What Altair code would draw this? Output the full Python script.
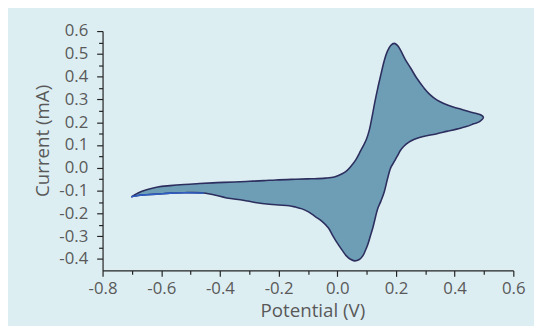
import altair as alt
import pandas as pd

# Forward (anodic) scan, from the left vertex to the right vertex
fwd_potential = [-0.702, -0.690, -0.679, -0.650, -0.612, -0.570, -0.522, -0.470, -0.411, -0.350,
                 -0.299, -0.250, -0.209, -0.142, -0.090, -0.041, -0.010, 0.015, 0.033, 0.048,
                 0.063, 0.076, 0.088, 0.099, 0.110, 0.118, 0.127, 0.138, 0.149, 0.160,
                 0.171, 0.182, 0.194, 0.205, 0.216, 0.232, 0.250, 0.270, 0.294, 0.315,
                 0.339, 0.365, 0.395, 0.425, 0.451, 0.475, 0.490, 0.498]
fwd_current = [-0.128, -0.118, -0.110, -0.096, -0.084, -0.078, -0.073, -0.069, -0.065, -0.062,
               -0.059, -0.056, -0.053, -0.050, -0.048, -0.045, -0.040, -0.027, -0.012, 0.009,
               0.035, 0.066, 0.095, 0.124, 0.170, 0.220, 0.282, 0.350, 0.411, 0.470,
               0.512, 0.537, 0.546, 0.537, 0.515, 0.475, 0.438, 0.395, 0.353, 0.322,
               0.298, 0.281, 0.267, 0.256, 0.246, 0.238, 0.232, 0.222]

# Reverse (cathodic) scan, from the right vertex back to the left vertex
rev_potential = [0.485, 0.465, 0.440, 0.410, 0.373, 0.340, 0.305, 0.280, 0.261, 0.243,
                 0.227, 0.215, 0.205, 0.193, 0.182, 0.171, 0.160, 0.149, 0.138, 0.129,
                 0.121, 0.112, 0.104, 0.095, 0.087, 0.075, 0.059, 0.045, 0.031, 0.017,
                 0.003, -0.015, -0.030, -0.052, -0.075, -0.098, -0.120, -0.142, -0.164, -0.200,
                 -0.232, -0.280, -0.321, -0.377, -0.422, -0.455, -0.522, -0.570, -0.612, -0.650,
                 -0.679, -0.695, -0.702]
rev_current = [0.203, 0.193, 0.181, 0.171, 0.160, 0.150, 0.141, 0.133, 0.124, 0.112,
               0.095, 0.076, 0.052, 0.025, 0.000, -0.049, -0.106, -0.145, -0.178, -0.222,
               -0.264, -0.302, -0.336, -0.365, -0.386, -0.402, -0.408, -0.401, -0.386, -0.362,
               -0.336, -0.298, -0.264, -0.235, -0.214, -0.193, -0.180, -0.172, -0.166, -0.163,
               -0.160, -0.152, -0.142, -0.132, -0.118, -0.110, -0.109, -0.111, -0.115, -0.118,
               -0.121, -0.125, -0.128]

# Part of the reverse scan drawn in a brighter blue
blue_from = -0.455

x_ticks = [-0.8, -0.7, -0.6, -0.5, -0.4, -0.3, -0.2, -0.1, 0.0, 0.1, 0.2, 0.3, 0.4, 0.5, 0.6]
y_ticks = [-0.4, -0.35, -0.3, -0.25, -0.2, -0.15, -0.1, -0.05, 0.0, 0.05, 0.1, 0.15,
           0.2, 0.25, 0.3, 0.35, 0.4, 0.45, 0.5, 0.55, 0.6]

pot = fwd_potential + rev_potential
cur = fwd_current + rev_current
df = pd.DataFrame({"potential": pot, "current": cur, "idx": list(range(len(pot)))})
blue = df[(df["idx"] >= len(fwd_potential)) & (df["potential"] <= blue_from)]

FONT = "Open Sans"
GREY = "#595959"

x_scale = alt.Scale(domain=[-0.8, 0.6], nice=False, zero=False)
y_scale = alt.Scale(domain=[-0.45, 0.6], nice=False, zero=False)

X_MAJOR = "abs(datum.value*5 - round(datum.value*5)) < 0.001"
Y_MAJOR = "abs(datum.value*10 - round(datum.value*10)) < 0.001"
LBL = "(datum.value < -0.0001 ? '-' : '') + format(abs(datum.value), '.1f')"

x_axis = alt.Axis(
    values=x_ticks, title="Potential (V)", grid=False,
    labelExpr=f"{X_MAJOR} ? {LBL} : ''",
    tickSize={"condition": {"test": X_MAJOR, "value": 6}, "value": 4},
    labelPadding=4, titlePadding=6, labelFlush=False, labelOverlap=False,
    titleX=213,
)
y_axis = alt.Axis(
    values=y_ticks, title="Current (mA)", grid=False,
    labelExpr=f"{Y_MAJOR} ? {LBL} : ''",
    tickSize={"condition": {"test": Y_MAJOR, "value": 6}, "value": 4},
    labelPadding=9, titlePadding=7, labelFlush=False, labelOverlap=False,
    titleY=111,
)

shape = alt.Chart(df).mark_line(
    fill="#6e9db6", stroke="#2c2f5e", strokeWidth=1.6, interpolate="catmull-rom"
).encode(
    x=alt.X("potential:Q", scale=x_scale, axis=x_axis),
    y=alt.Y("current:Q", scale=y_scale, axis=y_axis),
    order="idx:Q",
)

blue_line = alt.Chart(blue).mark_line(
    stroke="#2f5fc4", strokeWidth=1.6, interpolate="catmull-rom"
).encode(
    x=alt.X("potential:Q", scale=x_scale, axis=x_axis),
    y=alt.Y("current:Q", scale=y_scale, axis=y_axis),
    order="idx:Q",
)

chart = alt.layer(shape, blue_line).properties(
    width=417, height=243,
    autosize=alt.AutoSizeParams(type="none"),
    padding={"left": 96, "top": 21, "right": 21, "bottom": 54},
    background="#ddeef3",
).configure_view(stroke=None).configure_axis(
    labelFont=FONT, titleFont=FONT, labelFontSize=17, titleFontSize=19,
    labelColor=GREY, titleColor=GREY, titleFontWeight="normal",
    domainColor="#222222", tickColor="#222222", domainWidth=1.2, tickWidth=1.2,
)

chart.save("out.html", embed_options={"renderer": "svg", "actions": False})
